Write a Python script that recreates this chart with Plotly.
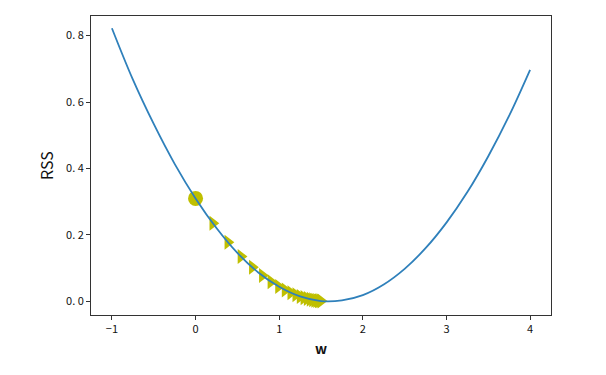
import plotly.graph_objects as go

# Curve RSS(w), values
curve_w = [-1, -0.75, -0.5, -0.25, 0, 0.25, 0.5, 0.75, 1, 1.25, 1.5,
           1.75, 2, 2.25, 2.5, 2.75, 3, 3.25, 3.5, 3.75, 4]
curve_rss = [0.822, 0.668, 0.534, 0.414, 0.310, 0.221, 0.146, 0.087, 0.044,
             0.015, 0.001, 0.003, 0.019, 0.051, 0.098, 0.160, 0.237, 0.329,
             0.437, 0.559, 0.697]

# Starting point
start_w = [0.0]
start_rss = [0.310]

# Gradient-descent steps
step_w = [0.206, 0.386, 0.543, 0.679, 0.798, 0.901, 0.992, 1.070, 1.138,
          1.198, 1.250, 1.295, 1.334, 1.369, 1.398, 1.424, 1.447, 1.467,
          1.484, 1.499]
step_rss = [0.235, 0.178, 0.135, 0.103, 0.078, 0.059, 0.045, 0.034, 0.026,
            0.020, 0.0148, 0.0113, 0.0085, 0.0065, 0.0049, 0.0037, 0.0028,
            0.0021, 0.0016, 0.0012]

x_ticks = [-1, 0, 1, 2, 3, 4]
x_tick_text = ["\u22121", "0", "1", "2", "3", "4"]
y_ticks = [0.0, 0.2, 0.4, 0.6, 0.8]
y_tick_text = ["0.\u00a08", "0.\u00a06", "0.\u00a04", "0.\u00a02", "0.\u00a00"][::-1]

yellow = "#bfbf00"
fig = go.Figure()
fig.add_trace(go.Scatter(x=start_w, y=start_rss, mode="markers",
                         marker=dict(symbol="circle", size=15, color=yellow, line_width=0),
                         showlegend=False))
fig.add_trace(go.Scatter(x=step_w, y=step_rss, mode="markers",
                         marker=dict(symbol="triangle-right", size=13, color=yellow, line_width=0),
                         showlegend=False))
fig.add_trace(go.Scatter(x=curve_w, y=curve_rss, mode="lines",
                         line=dict(color="#2f80bb", width=1.8, shape="spline"),
                         showlegend=False))

axis_common = dict(showline=True, linecolor="#333333", linewidth=1, mirror=True,
                   ticks="outside", ticklen=4, tickcolor="#333333", showgrid=False,
                   zeroline=False, tickfont=dict(size=11, color="#111111"))
fig.update_layout(
    width=606, height=375,
    margin=dict(l=91, r=55, t=16, b=60),
    paper_bgcolor="white", plot_bgcolor="white",
    font=dict(family="Noto Sans CJK SC, DejaVu Sans, sans-serif", color="#111111"),
    xaxis=dict(range=[-1.25, 4.25], tickvals=x_ticks, ticktext=x_tick_text,
               title=dict(text="<b>w</b>", font=dict(size=14), standoff=8), **axis_common),
    yaxis=dict(range=[-0.041, 0.859], tickvals=y_ticks, ticktext=y_tick_text,
               title=dict(text="RSS", font=dict(size=16), standoff=8), **axis_common),
)
fig.write_html("out.html")
